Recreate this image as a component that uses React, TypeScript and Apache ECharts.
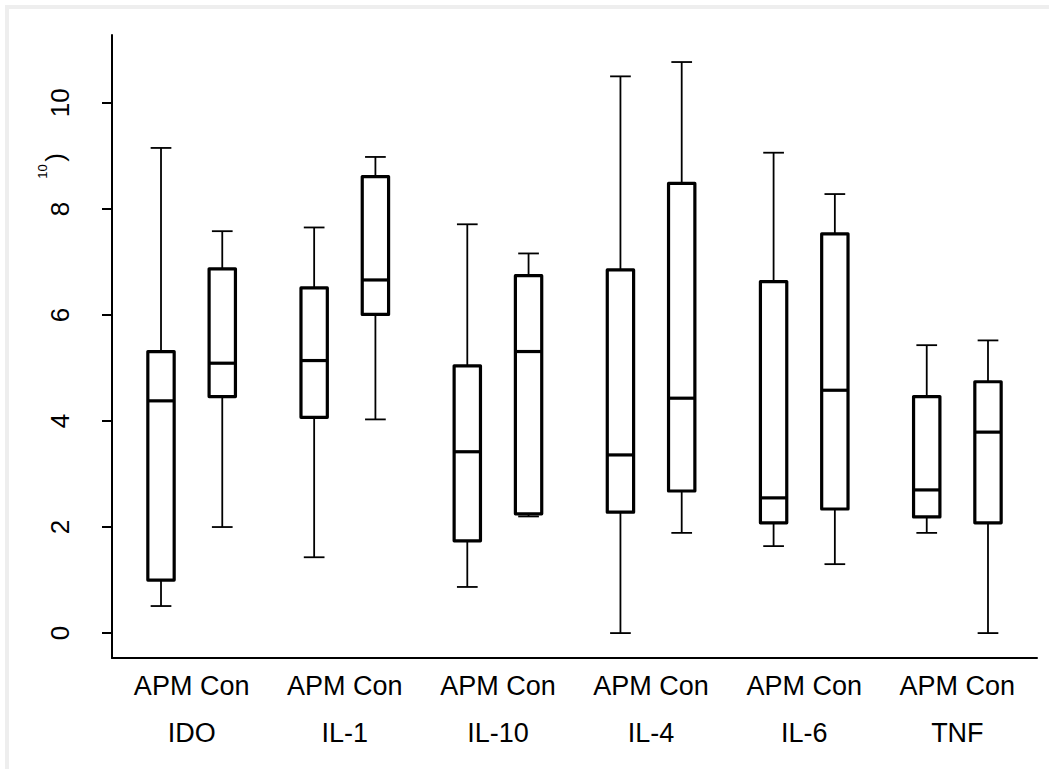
import React, { useEffect, useRef } from "react";
import * as echarts from "echarts";

const groups = ["IDO", "IL-1", "IL-10", "IL-4", "IL-6", "TNF"];
const subgroups = ["APM", "Con"];
const subgroupOffsets = [-0.2, 0.2];

const apmLow = [0.51, 1.43, 0.87, 0.0, 1.64, 1.89];
const apmQ1 = [1.0, 4.07, 1.74, 2.28, 2.08, 2.19];
const apmMedian = [4.38, 5.14, 3.42, 3.36, 2.55, 2.7];
const apmQ3 = [5.31, 6.51, 5.04, 6.85, 6.63, 4.46];
const apmHigh = [9.15, 7.65, 7.71, 10.5, 9.06, 5.43];

const conLow = [2.0, 4.03, 2.2, 1.89, 1.3, 0.0];
const conQ1 = [4.46, 6.01, 2.25, 2.68, 2.34, 2.08];
const conMedian = [5.09, 6.66, 5.31, 4.43, 4.58, 3.79];
const conQ3 = [6.87, 8.61, 6.74, 8.48, 7.53, 4.74];
const conHigh = [7.58, 8.98, 7.16, 10.77, 8.28, 5.52];

const yTicks = [0, 2, 4, 6, 8, 10];
const xTicks = [0, 1, 2, 3, 4, 5];

const FONT = "'Liberation Sans', Arial, Helvetica, sans-serif";

function buildData() {
  const rows: number[][] = [];
  groups.forEach((_, g) => {
    rows.push([g + subgroupOffsets[0], apmLow[g], apmQ1[g], apmMedian[g], apmQ3[g], apmHigh[g]]);
    rows.push([g + subgroupOffsets[1], conLow[g], conQ1[g], conMedian[g], conQ3[g], conHigh[g]]);
  });
  return rows;
}

export default function App() {
  const ref = useRef<HTMLDivElement>(null);
  useEffect(() => {
    if (!ref.current) return;
    const chart = echarts.init(ref.current, null, { renderer: "svg" });
    const renderItem = (params: any, api: any) => {
      const x = api.value(0);
      const lo = api.coord([x, api.value(1)]);
      const q1 = api.coord([x, api.value(2)]);
      const med = api.coord([x, api.value(3)]);
      const q3 = api.coord([x, api.value(4)]);
      const hi = api.coord([x, api.value(5)]);
      const unit = api.size([1, 0])[0];
      const hw = unit * 0.086;
      const cw = unit * 0.0676;
      const cx = lo[0];
      const thin = { stroke: "#000", lineWidth: 1.8 };
      const thick = { stroke: "#000", lineWidth: 3.2, fill: "none", lineJoin: "round" };
      return {
        type: "group",
        children: [
          { type: "line", shape: { x1: cx, y1: lo[1], x2: cx, y2: q1[1] }, style: thin },
          { type: "line", shape: { x1: cx, y1: hi[1], x2: cx, y2: q3[1] }, style: thin },
          { type: "line", shape: { x1: cx - cw, y1: lo[1], x2: cx + cw, y2: lo[1] }, style: thin },
          { type: "line", shape: { x1: cx - cw, y1: hi[1], x2: cx + cw, y2: hi[1] }, style: thin },
          {
            type: "rect",
            shape: { x: cx - hw, y: q3[1], width: hw * 2, height: q1[1] - q3[1] },
            style: { ...thick, fill: "#fff" },
          },
          { type: "line", shape: { x1: cx - hw, y1: med[1], x2: cx + hw, y2: med[1] }, style: thick },
        ],
      };
    };
    chart.setOption({
      animation: false,
      backgroundColor: "#fff",
      textStyle: { fontFamily: FONT, color: "#000" },
      grid: { left: 112, right: 12, top: 35, bottom: 111, outerBoundsMode: "none" },
      xAxis: {
        type: "value",
        min: -0.52,
        max: 5.52,
        axisLine: { show: true, onZero: false, lineStyle: { color: "#000", width: 2 } },
        axisTick: { show: false },
        splitLine: { show: false },
        axisLabel: {
          customValues: xTicks,
          margin: 4,
          formatter: (v: number) => `{a|${subgroups.join(" ")}}\n{b|${groups[Math.round(v)]}}`,
          rich: {
            a: { fontSize: 27, lineHeight: 47, fontFamily: FONT, color: "#000" },
            b: { fontSize: 27, lineHeight: 47, fontFamily: FONT, color: "#000" },
          },
        },
      },
      yAxis: {
        type: "value",
        min: -0.47,
        max: 11.28,
        axisLine: { show: true, onZero: false, lineStyle: { color: "#000", width: 2 } },
        axisTick: { show: true, length: 10, customValues: yTicks, lineStyle: { color: "#000", width: 2 } },
        splitLine: { show: false },
        axisLabel: {
          customValues: yTicks,
          rotate: 90,
          margin: 39,
          fontSize: 26,
          lineHeight: 26,
          fontFamily: FONT,
          color: "#000",
        },
      },
      graphic: [
        {
          type: "rect",
          shape: { x: 7, y: 7, width: 1200, height: 1000 },
          style: { fill: "none", stroke: "#eeeeee", lineWidth: 4 },
          silent: true,
        },
        {
          type: "group",
          x: 52,
          y: 165,
          rotation: Math.PI / 2,
          children: [
            {
              type: "text",
              x: 7.5,
              y: 3,
              style: { text: ")", fontSize: 26, fontFamily: FONT, fill: "#000", align: "center", verticalAlign: "middle" },
            },
            {
              type: "text",
              x: -6.5,
              y: -10,
              style: { text: "10", fontSize: 13, fontFamily: FONT, fill: "#000", align: "center", verticalAlign: "middle" },
            },
          ],
        },
      ],
      series: [
        {
          type: "custom",
          renderItem,
          encode: { x: 0, y: [1, 2, 3, 4, 5] },
          data: buildData(),
          clip: false,
        },
      ],
    });
    return () => chart.dispose();
  }, []);
  return (
    <div
      ref={ref}
      style={{ position: "fixed", left: 0, top: 0, width: 1049, height: 769, background: "#fff" }}
    />
  );
}
